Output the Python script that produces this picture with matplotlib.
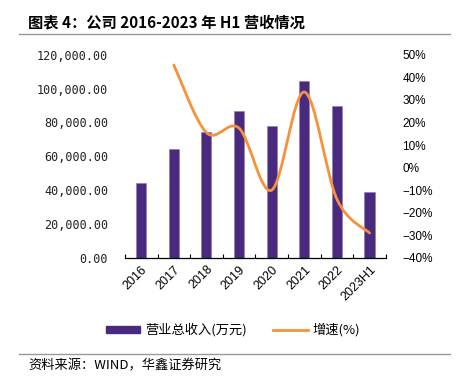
import matplotlib
matplotlib.use("Agg")
import matplotlib.pyplot as plt
import numpy as np
from matplotlib.path import Path
from matplotlib.patches import PathPatch, Patch
from matplotlib.lines import Line2D

plt.rcParams["font.family"] = ["Noto Sans CJK SC", "DejaVu Sans"]

years = ["2016", "2017", "2018", "2019", "2020", "2021", "2022", "2023H1"]
revenue = [44300, 64200, 74300, 86900, 78200, 104400, 89700, 39000]
growth = [None, 45.5, 15.5, 17.5, -10.0, 33.5, -14.0, -29.0]

PURPLE = "#4a2a7f"
ORANGE = "#f7923a"


def smooth_path(xs, ys):
    # Excel style smooth line: Catmull-Rom segments as cubic Beziers
    pts = np.column_stack([xs, ys]).astype(float)
    verts = [pts[0]]
    codes = [Path.MOVETO]
    n = len(pts)
    for i in range(n - 1):
        p0 = pts[max(i - 1, 0)]
        p1 = pts[i]
        p2 = pts[i + 1]
        p3 = pts[min(i + 2, n - 1)]
        c1 = p1 + (p2 - p0) / 6.0
        c2 = p2 - (p3 - p1) / 6.0
        verts += [c1, c2, p2]
        codes += [Path.CURVE4] * 3
    return Path(verts, codes)


fig = plt.figure(figsize=(4.66, 3.86), dpi=100)
ax = fig.add_axes([0.268, 0.332, 0.56, 0.526])
x = np.arange(len(years))
ax.bar(x, revenue, width=0.31, color=PURPLE, edgecolor="#8a78b0", linewidth=0.4)
ax.set_xlim(-0.5, len(years) - 0.5)
ax.set_ylim(0, 120000)
ax.set_yticks(np.arange(0, 120001, 20000))
ax.set_yticklabels([f"{v:,.2f}" for v in np.arange(0, 120001, 20000)],
                   family="DejaVu Sans Mono", fontsize=8.5, color="#222222")
ax.tick_params(axis="y", length=0, pad=12)
ax.set_xticks(x)
ax.set_xticklabels(years, rotation=45, ha="right", rotation_mode="anchor",
                   family="Liberation Sans", fontsize=9)
ax.set_xticks(np.arange(-0.5, len(years)), minor=True)
ax.tick_params(axis="x", which="major", length=0, pad=4)
ax.tick_params(axis="x", which="minor", direction="in", length=3, width=0.8)
for s in ["left", "right", "top"]:
    ax.spines[s].set_visible(False)
ax.spines["bottom"].set_linewidth(0.9)

ax2 = ax.twinx()
ax2.set_ylim(-40, 50)
ax2.set_yticks(np.arange(-40, 51, 10))
ax2.set_yticklabels([f"{v}%".replace("-", "\u2212") for v in range(-40, 51, 10)],
                    family="Liberation Sans", fontsize=8.5)
ax2.tick_params(axis="y", length=0, pad=12)
for s in ax2.spines.values():
    s.set_visible(False)
gx = [i for i, g in enumerate(growth) if g is not None]
gy = [g for g in growth if g is not None]
ax2.add_patch(PathPatch(smooth_path(gx, gy), facecolor="none",
                        edgecolor=ORANGE, linewidth=2.0, capstyle="round"))

fig.text(0.06, 0.943, "图表 4：公司 2016-2023 年 H1 营收情况", fontsize=11,
         fontweight="bold", va="center")
fig.add_artist(Line2D([0.04, 0.966], [0.912, 0.912], color="#999999", linewidth=1.0))
fig.add_artist(Line2D([0.04, 0.966], [0.083, 0.083], color="#999999", linewidth=1.0))
fig.text(0.06, 0.052, "资料来源：WIND，华鑫证券研究", fontsize=9.5, va="center")

handles = [Patch(facecolor=PURPLE, edgecolor=PURPLE),
           Line2D([0], [0], color=ORANGE, linewidth=2.0)]
fig.legend(handles, ["营业总收入(万元)", "增速(%)"], loc="center",
           bbox_to_anchor=(0.5, 0.145), ncol=2, frameon=False, fontsize=9.5,
           handlelength=2.6, handleheight=0.45, columnspacing=2.0, handletextpad=0.4)

fig.savefig("out.png", dpi=100)
